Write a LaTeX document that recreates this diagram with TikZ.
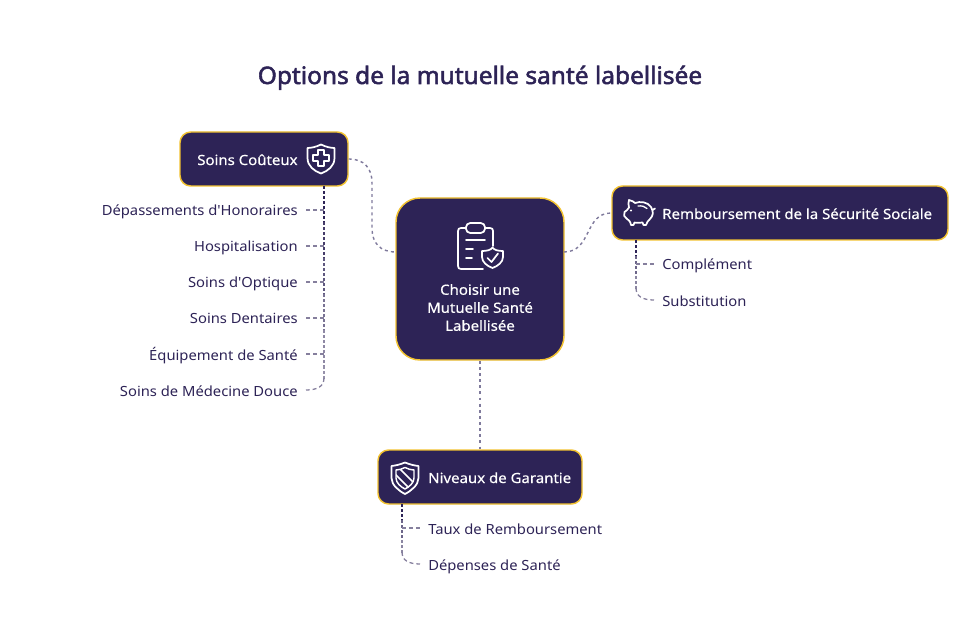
\documentclass[tikz,border=0pt]{standalone}
\usepackage{fontspec}
\newfontfamily\basef{Noto Sans}
\newfontfamily\leaff[FakeStretch=1.055]{Noto Sans}
\newfontfamily\boxf[FakeStretch=1.07,FakeBold=0.35]{Noto Sans}
\newfontfamily\titlef[FakeStretch=1.02,FakeBold=2.2]{Noto Sans}
\definecolor{navy}{HTML}{2D2356}
\definecolor{gold}{HTML}{F2C230}
\definecolor{soft}{HTML}{7F7A9C}
\tikzset{
 x=0.75pt,y=-0.75pt,
 box/.style={draw=gold,fill=navy,line width=1.1pt,rounded corners=8pt,inner sep=0pt,minimum height=40.5pt},
 boxtxt/.style={text=white,font=\boxf\fontsize{10.5}{13.5}\selectfont,inner sep=0pt},
 leaf/.style={text=navy,font=\leaff\fontsize{10.5}{13}\selectfont,inner sep=0pt},
 link/.style={draw=soft,line width=1.05pt,dash pattern=on 2.2pt off 2.4pt},
 trunk/.style={line width=1.5pt,dash pattern=on 2.2pt off 1.6pt},
 twig/.style={draw=navy!58!white,line width=.95pt,dash pattern=on 3pt off 2.2pt},
 icon/.style={draw=white,line width=1.3pt,line join=round,line cap=round},
}
\begin{document}
\begin{tikzpicture}
\useasboundingbox (0,0) rectangle (972,624);
\node[anchor=base,inner sep=0pt,text=navy,font=\titlef\fontsize{18}{22}\selectfont] (title) at (480,84) {Options de la mutuelle santé labellisée};
\node[box,rounded corners=18pt,minimum width=126pt,minimum height=121.5pt] (main) at (480,279) {};
\node[boxtxt,align=center] (maintxt) at (480,307.5) {Choisir une\\Mutuelle Santé\\Labellisée};
\node[box,minimum width=126pt] (soins) at (264,159) {};
\node[boxtxt,anchor=base west] (soinstxt) at (197,165) {Soins Coûteux};
\node[box,minimum width=252pt] (remb) at (780,213) {};
\node[boxtxt,anchor=base west] (rembtxt) at (662,219) {Remboursement de la Sécurité Sociale};
\node[box,minimum width=153pt] (niv) at (480,477) {};
\node[boxtxt,anchor=base west] (nivtxt) at (428,483) {Niveaux de Garantie};
% leaves
\foreach \n/\y/\t in {a/216/Dépassements d'Honoraires,b/252/Hospitalisation,c/288/Soins d'Optique,d/324/Soins Dentaires,e/360/Équipement de Santé,f/396/Soins de Médecine Douce}
 \node[leaf,anchor=base east] (\n) at (298,\y) {\t};
\node[leaf,anchor=base west] (g) at (662,270) {Complément};
\node[leaf,anchor=base west] (h) at (662,306) {Substitution};
\node[leaf,anchor=base west] (i) at (428,534) {Taux de Remboursement};
\node[leaf,anchor=base west] (j) at (428,570) {Dépenses de Santé};
% main links
\coordinate (mw) at (396,252);
\coordinate (me) at (564,252);
\draw[link] (soins.east) .. controls (364,159) and (372,168) .. (372,183) -- (372,228) .. controls (372,243) and (380,252) .. (mw);
\draw[link] (me) .. controls (592,252) and (584,213) .. (remb.west);
\draw[link] (main.south) -- (niv.north);
% left trunk
\foreach \ya/\yb/\c in {186/222/100,222/258/88,258/294/76,294/330/64,330/366/54}
 \draw[trunk,draw=navy!\c!white] (324,\ya) -- (324,\yb);
\draw[trunk,draw=navy!50!white,line width=1.1pt] (324,366) -- (324,380);
\foreach \n/\y in {a/210,b/246,c/282,d/318,e/354}
 \draw[twig] (324,\y) -- (306,\y);
\draw[twig] (324,378) .. controls (324,386) and (318,390) .. (306,390);
% right trunk
\draw[trunk,draw=navy] (636,240) -- (636,256);
\draw[trunk,draw=navy!70!white] (636,256) -- (636,276);
\draw[trunk,draw=navy!55!white,line width=1.1pt] (636,276) -- (636,290);
\draw[twig] (636,264) -- (654,264);
\draw[twig] (636,288) .. controls (636,296) and (642,300) .. (654,300);
% bottom trunk
\draw[trunk,draw=navy] (402,504) -- (402,520);
\draw[trunk,draw=navy!70!white] (402,520) -- (402,540);
\draw[trunk,draw=navy!55!white,line width=1.1pt] (402,540) -- (402,554);
\draw[twig] (402,528) -- (420,528);
\draw[twig] (402,552) .. controls (402,560) and (408,564) .. (420,564);
% shield cross
\draw[icon] (321,144.5) .. controls (326,147) and (331,148) .. (334.5,148) -- (334.5,158) .. controls (334.5,166) and (328,171) .. (321,173.5) .. controls (314,171) and (307.5,166) .. (307.5,158) -- (307.5,148) .. controls (311,148) and (316,147) .. (321,144.5) -- cycle;
\draw[icon,line width=1.5pt] (318,150) -- (324,150) -- (324,155) -- (329,155) -- (329,161) -- (324,161) -- (324,166) -- (318,166) -- (318,161) -- (313,161) -- (313,155) -- (318,155) -- cycle;
% clipboard
\draw[icon] (466,228) -- (461,228) .. controls (459,228) and (458,229) .. (458,231) -- (458,266) .. controls (458,268) and (459,269) .. (461,269) -- (483,269);
\draw[icon] (485,228) -- (490,228) .. controls (492,228) and (493,229) .. (493,231) -- (493,246);
\draw[icon,rounded corners=3.2pt] (466,223) rectangle (485,233);
\draw[icon] (466,240) -- (485,240) (466,249) -- (473,249) (466,258) -- (472,258);
\draw[icon] (482,251) .. controls (487,251) and (491,250) .. (492.5,247.5) .. controls (494,250) and (498,251) .. (503,251) -- (503,257) .. controls (503,262) and (498,266) .. (492.5,268) .. controls (487,266) and (482,262) .. (482,257) -- cycle;
\draw[icon] (487.5,258) -- (491.5,262) -- (498,253.5);
% piggy
\draw[icon] (629,200) .. controls (632,200.5) and (634,202) .. (635,203) .. controls (640,201) and (648,202) .. (651,207) .. controls (654,212) and (653,216) .. (650,219) .. controls (648,221) and (647,222) .. (646,225) -- (643.5,225) -- (642.5,222.5) .. controls (640,223) and (636,223) .. (634.5,222.5) -- (633.5,225) -- (631,225) .. controls (630.5,221.5) and (628.5,219.5) .. (626.5,218.5) .. controls (624,217.5) and (623.5,214.5) .. (624.5,212) .. controls (626.5,211) and (627.5,209.5) .. (629,207.5) .. controls (628.5,205) and (628,202) .. (629,200) -- cycle;
\draw[icon,line width=1pt] (638,206) .. controls (642,205.5) and (645,206.5) .. (647,208.5);
\fill[white] (631,210.5) circle (1.1);
\draw[icon] (652.5,210) -- (655,208.5);
% niveaux shield
\draw[icon] (405,462.5) .. controls (410,464.5) and (414,465.5) .. (418.5,466) -- (418.5,478) .. controls (418.5,485) and (411,491) .. (405,494) .. controls (399,491) and (391.5,485) .. (391.5,478) -- (391.5,466) .. controls (396,465.5) and (400,464.5) .. (405,462.5) -- cycle;
\draw[icon,line width=1.1pt] (405,467.5) .. controls (408,469) and (411,470) .. (414,470) -- (414,478) .. controls (414,483) and (409,487) .. (405,489) .. controls (401,487) and (396,483) .. (396,478) -- (396,470) .. controls (399,470) and (402,469) .. (405,467.5) -- cycle;
\clip (405,467.5) .. controls (408,469) and (411,470) .. (414,470) -- (414,478) .. controls (414,483) and (409,487) .. (405,489) .. controls (401,487) and (396,483) .. (396,478) -- (396,470) .. controls (399,470) and (402,469) .. (405,467.5) -- cycle;
\draw[icon,line width=1.1pt] (394,473) -- (412,491) (399,468) -- (417,486);
\end{tikzpicture}
\end{document}
